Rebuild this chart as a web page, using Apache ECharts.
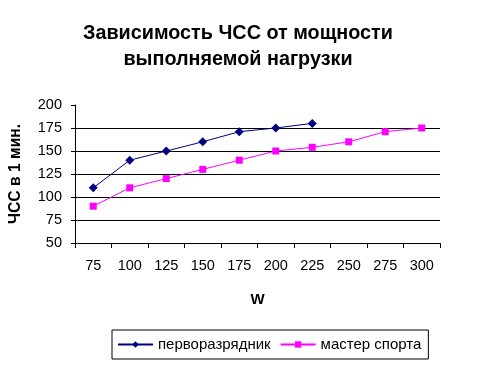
<!DOCTYPE html>
<html><head><meta charset="utf-8">
<script src="https://cdn.jsdelivr.net/npm/echarts@6/dist/echarts.min.js"></script>
<style>html,body{margin:0;padding:0;background:#fff}#c{width:477px;height:371px}</style>
</head><body><div id="c"></div>
<script>
var categories = ['75','100','125','150','175','200','225','250','275','300'];
var seriesNames = ['перворазрядник','мастер спорта'];
var firstRank = [110, 140, 150, 160, 171, 175, 180];
var masterSport = [90, 110, 120, 130, 140, 150, 154, 160, 171, 175];
var titleText = 'Зависимость ЧСС от мощности\nвыполняемой нагрузки';
var yName = 'ЧСС в 1 мин.';
var xName = 'W';

var chart = echarts.init(document.getElementById('c'), null, {renderer:'canvas'});
var font = 'Arial, "Liberation Sans", sans-serif';
chart.setOption({
  animation:false,
  backgroundColor:'#fff',
  title:{text:titleText,left:233,textAlign:'center',top:16,
    textStyle:{fontFamily:font,fontSize:19.8,fontWeight:'bold',color:'#000',lineHeight:26}},
  grid:{left:72,right:37,top:105,bottom:128,containLabel:false},
  legend:{left:112,top:330,padding:[7,7,7,5],borderColor:'#000',borderWidth:1,
    itemWidth:35,itemHeight:8,itemGap:9,
    textStyle:{fontFamily:font,fontSize:15,color:'#000',lineHeight:15},
    data:[seriesNames[0],seriesNames[1]]},
  xAxis:{type:'category',data:categories,boundaryGap:true,
    name:xName,nameLocation:'middle',nameGap:49,
    nameTextStyle:{fontFamily:font,fontSize:15,fontWeight:'bold',color:'#000'},
    axisLine:{lineStyle:{color:'#000',width:1}},
    axisTick:{show:true,length:5,lineStyle:{color:'#000'}},
    axisLabel:{fontFamily:font,fontSize:14.5,color:'#000',margin:15}},
  yAxis:{type:'value',min:50,max:200,interval:25,
    name:yName,nameLocation:'middle',nameGap:51,
    nameTextStyle:{fontFamily:font,fontSize:15.7,fontWeight:'bold',color:'#000'},
    axisLine:{show:true,lineStyle:{color:'#000',width:1}},
    axisTick:{show:true,length:4,lineStyle:{color:'#000'}},
    axisLabel:{fontFamily:font,fontSize:14.5,color:'#000',margin:13},
    splitLine:{show:true,lineStyle:{color:['#000','#000','#000','#000','#000','#000','rgba(0,0,0,0)'],width:1}}},
  series:[
    {name:seriesNames[0],type:'line',data:firstRank,symbol:'diamond',symbolSize:9,
      lineStyle:{color:'#000080',width:1},itemStyle:{color:'#000080'}},
    {name:seriesNames[1],type:'line',data:masterSport,symbol:'rect',symbolSize:7,
      lineStyle:{color:'#FF00FF',width:1},itemStyle:{color:'#FF00FF'}}
  ]
});
</script></body></html>
